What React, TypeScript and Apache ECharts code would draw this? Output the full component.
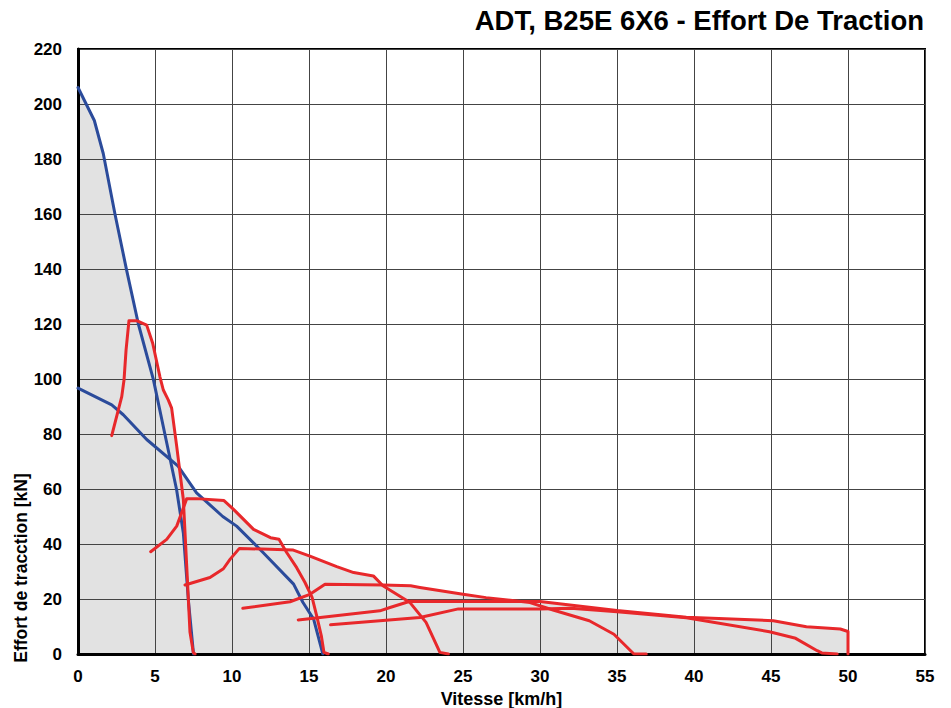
import React, { useEffect, useRef } from "react";
import * as echarts from "echarts";

const title = "ADT, B25E 6X6 - Effort De Traction";
const xName = "Vitesse [km/h]";
const yName = "Effort de tracction [kN]";

// Blue curves (speed km/h, force kN)
const blueHigh: [number, number][] = [
  [0, 206], [1.06, 194], [1.64, 182], [2.4, 160], [3.16, 139.5], [3.92, 120],
  [4.9, 99.7], [5.76, 76.8], [6.4, 59.8], [6.84, 44], [7.16, 20], [7.5, 0],
];
const blueLow: [number, number][] = [
  [0, 96.7], [2.19, 90.6], [2.94, 87], [4.46, 78], [6.5, 68.3], [7.7, 58.6],
  [9.4, 50], [10.3, 46.5], [12.0, 37], [14.0, 25.4], [14.6, 18.8], [15.3, 12.7], [15.9, 0],
];

// Red gear curves
const gear1: [number, number][] = [
  [2.19, 79.4], [2.84, 93.6], [2.99, 99.7], [3.12, 110.5], [3.31, 121.2], [3.81, 121.2],
  [4.46, 119.6], [4.85, 113], [5.32, 100.8], [5.54, 96], [5.86, 92.4], [6.08, 89.4],
  [6.41, 75.5], [6.84, 56.2], [7.06, 32], [7.27, 8], [7.49, 0.5], [7.6, 0],
];
const gear2: [number, number][] = [
  [4.72, 37.2], [5.76, 41.7], [6.41, 46.5], [6.73, 51.4], [7.06, 56.5], [7.7, 56.5],
  [9.48, 55.8], [10.1, 52.6], [11.4, 45.3], [12.5, 42.3], [13.05, 41.7], [13.55, 36.9],
  [14.2, 31.4], [14.74, 26], [15.2, 20.6], [15.5, 13.9], [15.8, 6.6], [15.97, 0.6], [16.25, 0],
];
const gear3: [number, number][] = [
  [6.95, 25.1], [8.57, 27.8], [9.44, 31], [9.87, 34.4], [10.48, 38.4], [13.98, 37.8],
  [15.06, 35.6], [16.8, 31.8], [17.9, 29.6], [19.18, 28.4], [19.8, 24.8], [21.56, 18.7],
  [22.6, 11.5], [23.5, 0.6], [24.05, 0],
];
const gear4: [number, number][] = [
  [10.7, 16.6], [13.77, 19], [15.06, 21.7], [16.04, 25.4], [19.8, 25.1], [21.6, 24.8],
  [22.2, 24.2], [25.0, 21.7], [26.5, 20.5], [29.35, 18.7], [30.9, 15.9], [33.2, 12.1],
  [34.8, 7.2], [36.1, 0], [36.9, 0],
];
const gear5: [number, number][] = [
  [14.3, 12.4], [19.6, 15.7], [20.26, 16.9], [21.56, 19.2], [30, 19.1], [35, 15.8],
  [39.5, 13.4], [45.15, 12.1], [47.3, 9.9], [49.5, 9.1], [50, 8.2], [50, 0],
];
const gear6: [number, number][] = [
  [16.4, 10.6], [22.2, 13.3], [24.7, 16.4], [30, 16.4], [32, 16.6], [35, 15.4],
  [39.5, 13.2], [44.9, 8.1], [46.6, 5.7], [48.0, 1.2], [48.3, 0.4], [49.3, 0],
];

// Gray envelope outline (upper limit of the shaded region)
const envelope: [number, number][] = [
  [0, 206], [1.06, 194], [1.64, 182], [2.4, 160], [3.16, 139.5], [3.9, 121],
  [4.46, 119.6], [4.85, 113], [5.32, 100.8], [5.54, 96], [5.86, 92.4], [6.08, 89.4],
  [6.41, 75.5], [6.6, 68], [7.7, 58.6], [8.15, 56.3], [9.48, 55.8], [10.1, 52.6],
  [11.4, 45.3], [12.5, 42.3], [13.05, 41.7], [13.4, 38.4], [13.98, 37.8], [15.06, 35.6],
  [16.8, 31.8], [17.9, 29.6], [19.18, 28.4], [19.75, 25.1], [21.6, 24.8], [22.2, 24.2],
  [25.0, 21.7], [26.5, 20.5], [28.4, 19.3], [30, 19.1], [35, 15.8], [39.5, 13.4],
  [45.15, 12.1], [47.3, 9.9], [49.5, 9.1], [50, 8.2], [50, 0],
];

const xTicks = { min: 0, max: 55, interval: 5 };
const yTicks = { min: 0, max: 220, interval: 20 };

const BLUE = "#2b4b9b";
const RED = "#e8282b";
const FONT = "Liberation Sans, Arial, sans-serif";

export default function App() {
  const ref = useRef<HTMLDivElement>(null);
  useEffect(() => {
    if (!ref.current) return;
    const chart = echarts.init(ref.current, null, { renderer: "svg" });
    const lineSeries = (name: string, data: [number, number][], color: string) => ({
      name,
      type: "line",
      data,
      showSymbol: false,
      symbol: "none",
      z: 5,
      lineStyle: { color, width: 3, join: "round", cap: "round" },
      silent: true,
    });
    chart.setOption({
      animation: false,
      backgroundColor: "#fff",
      title: {
        text: title,
        right: 22,
        top: 1,
        textStyle: { fontFamily: FONT, fontWeight: "bold", fontSize: 27.5, color: "#000" },
      },
      graphic: [
        {
          type: "text",
          x: 21,
          y: 568,
          rotation: Math.PI / 2,
          style: {
            text: yName,
            fontFamily: FONT,
            fontWeight: "bold",
            fontSize: 17.5,
            fill: "#000",
            align: "center",
            verticalAlign: "middle",
          },
        },
      ],
      grid: {
        left: 78, right: 26, top: 49, bottom: 54,
        outerBoundsMode: "none",
        containLabel: false,
        show: true, borderColor: "#000", borderWidth: 2, backgroundColor: "transparent",
      },
      xAxis: {
        type: "value",
        ...xTicks,
        z: 3,
        name: xName,
        nameLocation: "middle",
        nameGap: 36,
        nameTextStyle: { fontFamily: FONT, fontWeight: "bold", fontSize: 18, color: "#000" },
        axisLine: { show: true, lineStyle: { color: "#000", width: 3 } },
        axisTick: { show: false },
        axisLabel: { fontFamily: FONT, fontWeight: "bold", fontSize: 17, color: "#000", margin: 14 },
        splitLine: { show: true, lineStyle: { color: "#444", width: 1 } },
      },
      yAxis: {
        type: "value",
        ...yTicks,
        z: 3,
        axisLine: { show: true, lineStyle: { color: "#000", width: 3 } },
        axisTick: { show: false },
        axisLabel: { fontFamily: FONT, fontWeight: "bold", fontSize: 17, color: "#000", margin: 16 },
        splitLine: { show: true, lineStyle: { color: "#444", width: 1 } },
      },
      series: [
        {
          name: "envelope",
          type: "line",
          data: envelope,
          showSymbol: false,
          symbol: "none",
          z: 1,
          lineStyle: { width: 0, opacity: 0 },
          areaStyle: { color: "#e2e2e2", opacity: 1, origin: 0 },
          silent: true,
        },
        lineSeries("blueHigh", blueHigh, BLUE),
        lineSeries("blueLow", blueLow, BLUE),
        lineSeries("gear1", gear1, RED),
        lineSeries("gear2", gear2, RED),
        lineSeries("gear3", gear3, RED),
        lineSeries("gear4", gear4, RED),
        lineSeries("gear5", gear5, RED),
        lineSeries("gear6", gear6, RED),
      ],
    });
    return () => chart.dispose();
  }, []);
  return (
    <div
      ref={ref}
      style={{ position: "fixed", left: 0, top: 0, width: 951, height: 708, background: "#fff" }}
    />
  );
}
